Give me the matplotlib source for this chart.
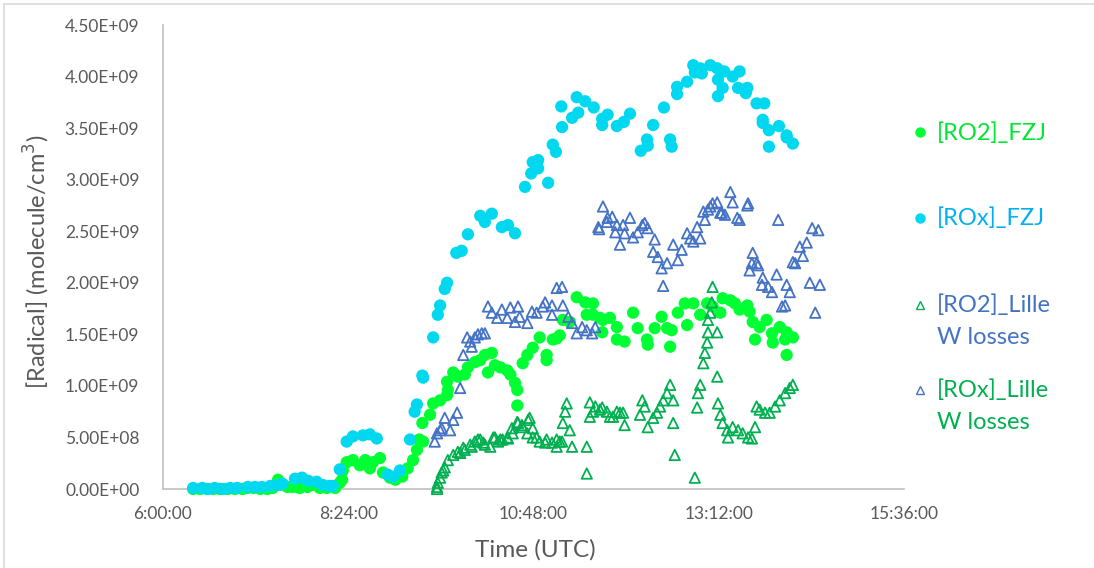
import matplotlib
matplotlib.use("Agg")
import matplotlib.pyplot as plt
from matplotlib.lines import Line2D
from matplotlib.ticker import FuncFormatter, FixedLocator

# ---------------- data (time in decimal hours UTC, values in 1e9 molecule/cm3) ----------------
ro2_fzj_t = [6.39, 6.48, 6.57, 6.65, 6.74, 6.84, 6.93, 7.03, 7.09, 7.17, 7.26, 7.35, 7.42, 7.49, 7.52,
             7.61, 7.68, 7.77, 7.87, 7.94, 8.03, 8.12, 8.23, 8.29, 8.32, 8.33, 8.38, 8.46, 8.55, 8.62,
             8.68, 8.72, 8.81, 8.85, 8.94, 9.01, 9.10, 9.17, 9.24, 9.29, 9.32, 9.36, 9.37, 9.46, 9.50,
             9.59, 9.68, 9.69, 9.68, 9.76, 9.82, 9.91, 9.95, 10.04, 10.11, 10.17, 10.21, 10.26, 10.30,
             10.37, 10.46, 10.50, 10.56, 10.59, 10.59, 10.66, 10.72, 10.79, 10.88, 10.97, 10.97, 11.05,
             11.10, 11.14, 11.18, 11.27, 11.36, 11.47, 11.49, 11.57, 11.57, 11.66, 11.69, 11.70, 11.79,
             11.88, 11.88, 11.98, 12.09, 12.15, 12.27, 12.28, 12.37, 12.46, 12.53, 12.57, 12.59, 12.67,
             12.76, 12.79, 12.87, 12.96, 13.05, 13.12, 13.22, 13.25, 13.35, 13.41, 13.47, 13.57, 13.60,
             13.64, 13.67, 13.73, 13.82, 13.89, 13.90, 13.99, 14.06, 14.08, 14.16, 14.08]
ro2_fzj_v = [0.00, 0.00, 0.00, 0.00, 0.00, 0.00, 0.00, 0.00, 0.01, 0.01, 0.00, 0.00, 0.01, 0.09, 0.04,
             0.02, 0.02, 0.01, 0.02, 0.04, 0.01, 0.01, 0.01, 0.06, 0.09, 0.18, 0.26, 0.28, 0.23, 0.28,
             0.20, 0.26, 0.30, 0.16, 0.11, 0.09, 0.12, 0.20, 0.28, 0.38, 0.48, 0.64, 0.46, 0.72, 0.83,
             0.86, 0.91, 0.96, 1.04, 1.13, 1.09, 1.11, 1.18, 1.23, 1.25, 1.30, 1.13, 1.32, 1.20,
             1.18, 1.15, 1.11, 1.03, 0.96, 0.81, 1.22, 1.30, 1.37, 1.47, 1.25, 1.30, 1.45,
             1.46, 1.49, 1.64, 1.62, 1.86, 1.81, 1.69, 1.80, 1.69, 1.66, 1.52, 1.64, 1.66,
             1.57, 1.45, 1.43, 1.71, 1.56, 1.45, 1.40, 1.56, 1.67, 1.56, 1.38, 1.54, 1.71,
             1.80, 1.59, 1.80, 1.69, 1.80, 1.77, 1.71, 1.85, 1.83, 1.80, 1.74, 1.78, 1.72,
             1.62, 1.45, 1.57, 1.64, 1.51, 1.42, 1.57, 1.45, 1.52, 1.47, 1.30]

rox_fzj_t = [6.39, 6.51, 6.58, 6.67, 6.78, 6.87, 6.96, 7.10, 7.19, 7.28, 7.39, 7.48, 7.55, 7.71, 7.80,
             7.88, 7.99, 8.07, 8.16, 8.20, 8.29, 8.38, 8.46, 8.59, 8.68, 8.77, 8.91, 8.98, 9.07, 9.20,
             9.26, 9.29, 9.36, 9.37, 9.50, 9.56, 9.59, 9.65, 9.68, 9.80, 9.87, 9.95, 10.11, 10.17, 10.26,
             10.39, 10.47, 10.56, 10.69, 10.77, 10.79, 10.86, 10.86, 10.99, 11.05, 11.09, 11.17, 11.16,
             11.30, 11.38, 11.36, 11.47, 11.58, 11.69, 11.69, 11.76, 11.88, 11.97, 12.05, 12.19, 12.27,
             12.28, 12.35, 12.49, 12.57, 12.59, 12.66, 12.66, 12.79, 12.87, 12.89, 12.96, 12.98, 13.09,
             13.18, 13.19, 13.19, 13.25, 13.27, 13.38, 13.47, 13.45, 13.57, 13.55, 13.69, 13.79, 13.77,
             13.77, 13.85, 13.85, 13.98, 14.08, 14.08, 14.16]
rox_fzj_v = [0.01, 0.01, 0.00, 0.01, 0.00, 0.01, 0.01, 0.02, 0.02, 0.02, 0.03, 0.04, 0.05, 0.10, 0.11,
             0.08, 0.07, 0.04, 0.03, 0.03, 0.19, 0.46, 0.51, 0.52, 0.53, 0.49, 0.14, 0.12, 0.18, 0.48,
             0.75, 0.82, 1.10, 1.08, 1.47, 1.69, 1.78, 1.94, 2.00, 2.29, 2.31, 2.47, 2.65, 2.59, 2.67,
             2.54, 2.56, 2.48, 2.93, 3.06, 3.17, 3.19, 3.11, 2.97, 3.34, 3.27, 3.51, 3.71,
             3.60, 3.65, 3.80, 3.76, 3.70, 3.59, 3.53, 3.63, 3.52, 3.56, 3.64, 3.28, 3.39,
             3.33, 3.53, 3.70, 3.39, 3.32, 3.83, 3.90, 3.95, 4.11, 4.04, 4.08, 4.03, 4.11,
             4.08, 3.97, 3.81, 3.89, 4.05, 4.00, 4.05, 3.89, 3.89, 3.84, 3.74, 3.74, 3.58,
             3.55, 3.48, 3.32, 3.52, 3.43, 3.41, 3.35]

ro2_lille_t = [9.55, 9.55, 9.56, 9.59, 9.61, 9.63, 9.65, 9.69, 9.76, 9.82, 9.85, 9.89, 9.91, 9.98, 10.00,
               10.04, 10.08, 10.11, 10.15, 10.17, 10.24, 10.28, 10.30, 10.34, 10.37, 10.40, 10.46, 10.47,
               10.52, 10.53, 10.59, 10.60, 10.65, 10.66, 10.72, 10.73, 10.75, 10.79, 10.79, 10.84, 10.88,
               10.95, 10.97, 11.04, 11.10, 11.10, 11.14, 11.17, 11.18, 11.21, 11.23, 11.27, 11.30, 11.49,
               11.49, 11.53, 11.53, 11.57, 11.60, 11.66, 11.69, 11.75, 11.79, 11.83, 11.88, 11.92, 11.96,
               11.98, 12.18, 12.21, 12.24, 12.28, 12.35, 12.40, 12.44, 12.48, 12.53, 12.57, 12.61, 12.61,
               12.63, 12.89, 12.92, 12.93, 12.96, 13.00, 13.02, 13.05, 13.06, 13.06, 13.09, 13.11, 13.12,
               13.18, 13.18, 13.19, 13.22, 13.25, 13.31, 13.32, 13.38, 13.45, 13.51, 13.58, 13.63, 13.67,
               13.69, 13.73, 13.80, 13.86, 13.93, 13.99, 14.06, 14.12, 14.16]
ro2_lille_v = [0.00, 0.02, 0.06, 0.11, 0.16, 0.18, 0.21, 0.28, 0.33, 0.36, 0.35, 0.40, 0.38, 0.43, 0.41,
               0.46, 0.48, 0.48, 0.45, 0.43, 0.41, 0.50, 0.50, 0.46, 0.48, 0.48, 0.50, 0.49,
               0.59, 0.54, 0.65, 0.64, 0.62, 0.60, 0.54, 0.67, 0.69, 0.59, 0.50, 0.50, 0.46,
               0.45, 0.48, 0.45, 0.48, 0.41, 0.46, 0.46, 0.64, 0.75, 0.83, 0.57, 0.41, 0.41,
               0.15, 0.84, 0.70, 0.75, 0.80, 0.77, 0.79, 0.75, 0.70, 0.70, 0.75, 0.74, 0.74,
               0.62, 0.72, 0.86, 0.80, 0.60, 0.69, 0.74, 0.80, 0.86, 0.93, 1.01, 0.86, 0.64,
               0.33, 0.11, 0.79, 0.93, 1.01, 1.22, 1.32, 1.42, 1.52, 1.64, 1.71, 1.81, 1.96,
               1.52, 1.09, 0.83, 0.72, 0.64, 0.57, 0.50, 0.60, 0.57, 0.54, 0.50, 0.49, 0.60,
               0.80, 0.77, 0.74, 0.74, 0.80, 0.86, 0.93, 0.98, 1.01]

rox_lille_t = [9.52, 9.55, 9.59, 9.61, 9.65, 9.72, 9.76, 9.81, 9.85, 9.89, 9.94, 9.98, 10.00, 10.04, 10.08,
               10.13, 10.17, 10.21, 10.26, 10.33, 10.39, 10.46, 10.50, 10.56, 10.60, 10.62, 10.72, 10.78,
               10.84, 10.92, 10.95, 11.04, 11.04, 11.10, 11.17, 11.18, 11.25, 11.30, 11.36, 11.43, 11.49,
               11.56, 11.60, 11.64, 11.65, 11.70, 11.75, 11.76, 11.82, 11.86, 11.88, 11.92, 11.96, 11.98,
               12.05, 12.09, 12.15, 12.21, 12.24, 12.28, 12.37, 12.35, 12.41, 12.46, 12.48, 12.53, 12.61,
               12.67, 12.72, 12.79, 12.83, 12.87, 12.92, 12.96, 13.00, 13.02, 13.06, 13.09, 13.12, 13.18,
               13.22, 13.24, 13.28, 13.35, 13.38, 13.44, 13.47, 13.57, 13.58, 13.60, 13.63, 13.64, 13.69,
               13.71, 13.77, 13.76, 13.84, 13.89, 13.95, 13.97, 14.02, 14.06, 14.08, 14.12, 14.16, 14.19,
               14.25, 14.29, 14.34, 14.38, 14.41, 14.45, 14.49, 14.51]
rox_lille_v = [0.46, 0.54, 0.57, 0.59, 0.69, 0.57, 0.67, 0.74, 0.98, 1.30, 1.47, 1.43, 1.38, 1.47, 1.50,
               1.51, 1.51, 1.77, 1.71, 1.66, 1.74, 1.66, 1.76, 1.62, 1.77, 1.67, 1.61, 1.72,
               1.71, 1.77, 1.81, 1.78, 1.69, 1.95, 1.96, 1.78, 1.67, 1.61, 1.51, 1.57, 1.54,
               1.51, 1.57, 2.54, 2.52, 2.74, 2.59, 2.63, 2.64, 2.49, 2.56, 2.37, 2.56, 2.48,
               2.63, 2.44, 2.49, 2.56, 2.58, 2.53, 2.42, 2.30, 2.25, 2.14, 1.97, 2.19, 2.37,
               2.22, 2.32, 2.48, 2.43, 2.40, 2.54, 2.43, 2.69, 2.61, 2.71, 2.74, 2.77, 2.78,
               2.68, 2.68, 2.66, 2.88, 2.78, 2.63, 2.61, 2.75, 2.77, 2.12, 2.19, 2.29, 2.19,
               2.17, 2.05, 1.98, 1.96, 1.91, 2.08, 2.61, 1.77, 1.78, 1.98, 1.91, 2.20, 2.19,
               2.35, 2.26, 2.39, 2.00, 2.53, 1.71, 2.51, 1.98]

x_ticks = [6.0, 8.4, 10.8, 13.2, 15.6]
y_ticks = [0.0, 0.5e9, 1.0e9, 1.5e9, 2.0e9, 2.5e9, 3.0e9, 3.5e9, 4.0e9, 4.5e9]
legend_labels = ["[RO2]_FZJ", "[ROx]_FZJ", "[RO2]_Lille\nW losses", "[ROx]_Lille\nW losses"]

# ---------------- styling ----------------
FONT = "Lato"
plt.rcParams["font.family"] = [FONT, "DejaVu Sans"]
C_RO2F = "#00FF33"
C_ROXF = "#00D8F0"
C_RO2L = "#00B050"
C_ROXL = "#4472C4"
TXT = "#595959"
AX = "#BFBFBF"

W, H = 1094, 568
fig = plt.figure(figsize=(W / 100, H / 100), dpi=100)
ax = fig.add_axes([163 / W, 1 - 489 / H, (904 - 163) / W, (489 - 25) / H])

sc = 1e9
ax.scatter(ro2_fzj_t, [v * sc for v in ro2_fzj_v], s=78, color=C_RO2F, edgecolors="none",
           zorder=3, clip_on=False)
ax.scatter(rox_fzj_t, [v * sc for v in rox_fzj_v], s=78, color=C_ROXF, edgecolors="none",
           zorder=3, clip_on=False)
ax.scatter(ro2_lille_t, [v * sc for v in ro2_lille_v], s=56, marker="^", facecolors="none",
           edgecolors=C_RO2L, linewidths=1.3, zorder=4, clip_on=False)
ax.scatter(rox_lille_t, [v * sc for v in rox_lille_v], s=56, marker="^", facecolors="none",
           edgecolors=C_ROXL, linewidths=1.3, zorder=4, clip_on=False)

ax.set_xlim(6.0, 15.6)
ax.set_ylim(0, 4.5e9)
ax.xaxis.set_major_locator(FixedLocator(x_ticks))
ax.yaxis.set_major_locator(FixedLocator(y_ticks))


def hfmt(x, pos):
    tot = int(round(x * 60))
    return "%d:%02d:00" % (tot // 60, tot % 60)


ax.xaxis.set_major_formatter(FuncFormatter(hfmt))
ax.yaxis.set_major_formatter(FuncFormatter(lambda y, p: "{:.2E}".format(y)))
ax.tick_params(axis="both", length=0, labelsize=12.5, colors=TXT)
ax.tick_params(axis="x", pad=12)
ax.tick_params(axis="y", pad=17)
for s in ["top", "right"]:
    ax.spines[s].set_visible(False)
for s in ["left", "bottom"]:
    ax.spines[s].set_color(AX)
    ax.spines[s].set_linewidth(1.2)
    ax.spines[s].set_zorder(1)

fig.text(535 / W, 1 - 550 / H, "Time (UTC)", ha="center", va="center", fontsize=17.5, color=TXT)
fig.text(37 / W, 1 - 262 / H, "[Radical] (molecule/cm$^{3}$)", ha="center", va="center",
         fontsize=17, color=TXT, rotation=90)

# outer chart border
fig.add_artist(Line2D([4 / W, 1], [1 - 4 / H, 1 - 4 / H], transform=fig.transFigure, color="#D9D9D9", lw=1.2))
fig.add_artist(Line2D([4 / W, 4 / W], [0, 1 - 4 / H], transform=fig.transFigure, color="#D9D9D9", lw=1.2))

# legend (manual, as in reference)
leg_marker = [("o", C_RO2F, C_RO2F), ("o", C_ROXF, C_ROXF), ("^", "none", C_RO2L), ("^", "none", C_ROXL)]
leg_txtcol = ["#00E632", "#00B0F0", C_ROXL, C_RO2L]
leg_ymark = [132, 218, 305, 390]
leg_ytext = [133, 218, 321, 406]
for (m, fc, ec), col, ym, yt, lab in zip(leg_marker, leg_txtcol, leg_ymark, leg_ytext, legend_labels):
    fig.add_artist(Line2D([920 / W], [1 - ym / H], transform=fig.transFigure, marker=m,
                          markersize=6.5 if m == "o" else 5.5, markerfacecolor=fc,
                          markeredgecolor=ec, markeredgewidth=1.0, linestyle="none"))
    fig.text(937 / W, 1 - yt / H, lab, ha="left", va="center", fontsize=17, color=col,
             linespacing=1.65)

fig.savefig("out.png", dpi=100)
